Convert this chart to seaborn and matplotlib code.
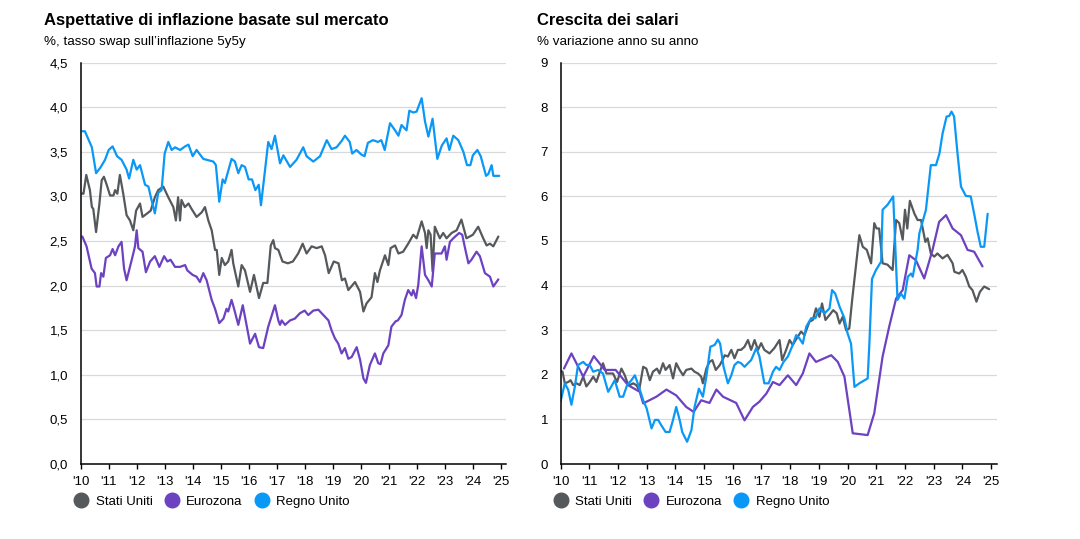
import numpy as np
import pandas as pd
import matplotlib
matplotlib.use("Agg")
import matplotlib.pyplot as plt
from matplotlib.lines import Line2D
import seaborn as sns

# --- left chart: 5y5y inflation swap (%) ---
inf_us_t = [2010.06, 2010.1, 2010.2, 2010.33, 2010.4, 2010.45, 2010.55, 2010.67, 2010.75, 2010.83, 2010.93,
            2011.05, 2011.17, 2011.23, 2011.31, 2011.4, 2011.52, 2011.64, 2011.76, 2011.88, 2011.98,
            2012.12, 2012.21, 2012.38, 2012.5, 2012.65, 2012.77, 2012.95, 2013.13, 2013.31, 2013.4,
            2013.48, 2013.55, 2013.6, 2013.72, 2013.85, 2013.96, 2014.14, 2014.32, 2014.44, 2014.56,
            2014.68, 2014.8, 2014.86, 2014.95, 2015.04, 2015.15, 2015.27, 2015.39, 2015.45, 2015.63,
            2015.75, 2015.87, 2016.05, 2016.19, 2016.37, 2016.52, 2016.67, 2016.79, 2016.88, 2016.94,
            2017.06, 2017.21, 2017.4, 2017.58, 2017.77, 2017.93, 2018.07, 2018.25, 2018.43, 2018.61,
            2018.73, 2018.86, 2019.04, 2019.21, 2019.33, 2019.44, 2019.56, 2019.8, 2019.98, 2020.1,
            2020.21, 2020.39, 2020.51, 2020.6, 2020.69, 2020.87, 2020.99, 2021.07, 2021.23, 2021.35,
            2021.52, 2021.7, 2021.88, 2022.0, 2022.18, 2022.3, 2022.36, 2022.42, 2022.5, 2022.57,
            2022.65, 2022.83, 2022.95, 2023.07, 2023.25, 2023.43, 2023.6, 2023.78, 2024.01, 2024.2,
            2024.38, 2024.5, 2024.62, 2024.74, 2024.92]
inf_us = [3.03, 3.03, 3.24, 3.07, 2.88, 2.86, 2.60, 2.92, 3.18, 3.22, 3.13,
          3.01, 3.01, 3.07, 3.03, 3.24, 3.03, 2.79, 2.73, 2.62, 2.84,
          2.92, 2.77, 2.81, 2.84, 2.99, 3.07, 3.11, 2.99, 2.88, 2.73,
          2.99, 2.73, 2.96, 2.88, 2.92, 2.86, 2.77, 2.82, 2.88, 2.73,
          2.62, 2.40, 2.40, 2.12, 2.31, 2.23, 2.27, 2.40, 2.25, 1.99,
          2.23, 2.17, 1.93, 2.12, 1.86, 2.03, 2.03, 2.45, 2.51, 2.42,
          2.40, 2.27, 2.25, 2.27, 2.36, 2.47, 2.36, 2.44, 2.42, 2.44,
          2.34, 2.14, 2.27, 2.25, 2.06, 2.08, 1.95, 2.04, 1.93, 1.71,
          1.80, 1.87, 2.14, 2.04, 2.17, 2.34, 2.23, 2.42, 2.45, 2.36,
          2.38, 2.47, 2.57, 2.53, 2.72, 2.59, 2.42, 2.62, 2.57, 2.16,
          2.66, 2.53, 2.59, 2.53, 2.59, 2.62, 2.74, 2.53, 2.57, 2.66,
          2.53, 2.45, 2.47, 2.44, 2.55]

inf_ez_t = [2010.06, 2010.21, 2010.39, 2010.51, 2010.57, 2010.67, 2010.73, 2010.81, 2010.9, 2011.05, 2011.14,
            2011.23, 2011.35, 2011.46, 2011.55, 2011.64, 2011.76, 2011.88, 2011.94, 2012.0, 2012.06,
            2012.21, 2012.33, 2012.48, 2012.65, 2012.81, 2012.98, 2013.1, 2013.21, 2013.37, 2013.55,
            2013.73, 2013.81, 2014.0, 2014.14, 2014.26, 2014.38, 2014.5, 2014.68, 2014.8, 2014.95,
            2015.1, 2015.21, 2015.27, 2015.39, 2015.48, 2015.63, 2015.79, 2015.87, 2016.05, 2016.23,
            2016.37, 2016.52, 2016.7, 2016.94, 2017.06, 2017.12, 2017.18, 2017.3, 2017.48, 2017.65,
            2017.83, 2018.0, 2018.13, 2018.31, 2018.49, 2018.67, 2018.85, 2018.96, 2019.08, 2019.2,
            2019.32, 2019.44, 2019.56, 2019.68, 2019.86, 2019.98, 2020.1, 2020.19, 2020.33, 2020.51,
            2020.63, 2020.71, 2020.81, 2020.99, 2021.1, 2021.25, 2021.33, 2021.46, 2021.58, 2021.7,
            2021.82, 2021.88, 2021.98, 2022.06, 2022.18, 2022.3, 2022.42, 2022.54, 2022.65, 2022.77,
            2022.89, 2023.01, 2023.07, 2023.19, 2023.31, 2023.52, 2023.63, 2023.73, 2023.85, 2023.96,
            2024.14, 2024.26, 2024.44, 2024.62, 2024.74, 2024.92]
inf_ez = [2.55, 2.44, 2.19, 2.14, 1.99, 1.99, 2.14, 2.10, 2.31, 2.34, 2.41,
          2.34, 2.44, 2.49, 2.19, 2.06, 2.21, 2.36, 2.44, 2.62, 2.42,
          2.38, 2.15, 2.27, 2.33, 2.21, 2.33, 2.27, 2.29, 2.21, 2.21,
          2.23, 2.17, 2.12, 2.10, 2.04, 2.14, 2.06, 1.84, 1.74, 1.58,
          1.63, 1.74, 1.71, 1.84, 1.74, 1.56, 1.78, 1.65, 1.35, 1.46,
          1.31, 1.30, 1.54, 1.78, 1.61, 1.56, 1.61, 1.56, 1.61, 1.63,
          1.69, 1.72, 1.67, 1.72, 1.73, 1.67, 1.61, 1.50, 1.41, 1.35,
          1.24, 1.30, 1.18, 1.20, 1.31, 1.17, 0.96, 0.91, 1.11, 1.24,
          1.13, 1.12, 1.24, 1.33, 1.54, 1.60, 1.61, 1.67, 1.84, 1.95,
          1.89, 1.95, 1.86, 2.01, 2.44, 2.12, 2.06, 1.99, 2.36, 2.36,
          2.36, 2.44, 2.29, 2.49, 2.53, 2.59, 2.57, 2.42, 2.25, 2.29,
          2.38, 2.33, 2.14, 2.10, 1.99, 2.07]

inf_uk_t = [2010.06, 2010.15, 2010.4, 2010.55, 2010.7, 2010.87, 2011.0, 2011.14, 2011.3, 2011.46, 2011.64,
            2011.73, 2011.88, 2012.0, 2012.12, 2012.3, 2012.42, 2012.5, 2012.65, 2012.77, 2012.89,
            2013.0, 2013.13, 2013.25, 2013.37, 2013.55, 2013.73, 2013.85, 2014.0, 2014.14, 2014.38,
            2014.74, 2014.83, 2014.95, 2015.07, 2015.15, 2015.39, 2015.51, 2015.63, 2015.75, 2015.87,
            2016.0, 2016.12, 2016.24, 2016.36, 2016.44, 2016.58, 2016.7, 2016.82, 2016.94, 2017.12,
            2017.24, 2017.48, 2017.71, 2017.95, 2018.07, 2018.31, 2018.55, 2018.79, 2018.96, 2019.14,
            2019.32, 2019.44, 2019.61, 2019.7, 2019.85, 2020.02, 2020.14, 2020.26, 2020.44, 2020.62,
            2020.74, 2020.86, 2021.05, 2021.23, 2021.35, 2021.46, 2021.64, 2021.74, 2021.88, 2022.0,
            2022.18, 2022.3, 2022.42, 2022.57, 2022.74, 2022.9, 2023.07, 2023.17, 2023.31, 2023.49,
            2023.67, 2023.8, 2023.92, 2024.01, 2024.17, 2024.29, 2024.48, 2024.56, 2024.68, 2024.74,
            2024.95]
inf_uk = [3.73, 3.73, 3.55, 3.26, 3.32, 3.41, 3.52, 3.56, 3.45, 3.41, 3.30,
          3.20, 3.41, 3.30, 3.35, 3.13, 3.11, 3.00, 2.81, 3.04, 3.07,
          3.48, 3.61, 3.52, 3.55, 3.52, 3.56, 3.58, 3.45, 3.52, 3.42,
          3.39, 3.35, 2.94, 3.19, 3.15, 3.42, 3.39, 3.26, 3.35, 3.33,
          3.19, 3.19, 3.07, 3.13, 2.90, 3.28, 3.61, 3.53, 3.68, 3.37,
          3.46, 3.33, 3.41, 3.55, 3.45, 3.39, 3.45, 3.63, 3.53, 3.55,
          3.62, 3.68, 3.61, 3.48, 3.52, 3.47, 3.45, 3.60, 3.63, 3.61,
          3.63, 3.52, 3.82, 3.74, 3.68, 3.80, 3.74, 3.96, 3.94, 3.95,
          4.10, 3.84, 3.67, 3.87, 3.42, 3.57, 3.65, 3.52, 3.68, 3.63,
          3.50, 3.35, 3.35, 3.46, 3.52, 3.45, 3.23, 3.25, 3.35, 3.23,
          3.23]

# --- right chart: wage growth (% y/y) ---
wg_us_t = [2010.0, 2010.07, 2010.15, 2010.27, 2010.35, 2010.44, 2010.56, 2010.67, 2010.79, 2010.9, 2011.02,
           2011.14, 2011.25, 2011.37, 2011.48, 2011.6, 2011.71, 2011.83, 2011.97, 2012.12, 2012.24,
           2012.32, 2012.41, 2012.53, 2012.64, 2012.74, 2012.88, 2012.99, 2013.11, 2013.22, 2013.36,
           2013.45, 2013.57, 2013.66, 2013.8, 2013.92, 2014.03, 2014.15, 2014.27, 2014.38, 2014.56,
           2014.67, 2014.79, 2014.9, 2014.96, 2015.08, 2015.19, 2015.29, 2015.41, 2015.55, 2015.64,
           2015.72, 2015.83, 2015.95, 2016.06, 2016.18, 2016.29, 2016.41, 2016.53, 2016.64, 2016.76,
           2016.88, 2016.99, 2017.1, 2017.28, 2017.45, 2017.63, 2017.72, 2017.86, 2017.98, 2018.09,
           2018.23, 2018.38, 2018.5, 2018.67, 2018.79, 2018.9, 2019.02, 2019.11, 2019.23, 2019.37,
           2019.5, 2019.62, 2019.72, 2019.83, 2019.95, 2020.06, 2020.16, 2020.41, 2020.53, 2020.67,
           2020.82, 2020.93, 2021.01, 2021.1, 2021.22, 2021.39, 2021.57, 2021.69, 2021.8, 2021.92,
           2022.0, 2022.08, 2022.17, 2022.33, 2022.44, 2022.56, 2022.71, 2022.79, 2022.9, 2023.02,
           2023.13, 2023.31, 2023.48, 2023.66, 2023.72, 2023.89, 2024.0, 2024.12, 2024.24, 2024.35,
           2024.49, 2024.61, 2024.76, 2024.93]
wg_us = [2.09, 2.07, 1.81, 1.84, 1.88, 1.77, 1.81, 1.77, 1.96, 1.74, 1.84,
         1.96, 1.84, 2.07, 2.26, 2.03, 2.03, 2.03, 1.84, 2.14, 1.99,
         1.84, 1.77, 1.81, 1.77, 1.66, 2.18, 2.14, 1.88, 2.07, 2.14,
         2.03, 2.26, 2.11, 2.22, 1.92, 2.26, 2.11, 1.99, 2.11, 2.14,
         2.07, 2.03, 1.96, 1.81, 2.14, 2.29, 2.33, 2.11, 2.22, 2.33,
         2.44, 2.41, 2.56, 2.37, 2.56, 2.56, 2.63, 2.78, 2.56, 2.78,
         2.56, 2.71, 2.56, 2.48, 2.60, 2.78, 2.33, 2.56, 2.78, 2.67,
         2.82, 2.97, 2.89, 3.19, 3.23, 3.49, 3.30, 3.60, 3.23, 3.34,
         3.45, 3.38, 3.15, 3.30, 3.00, 3.04, 3.68, 5.13, 4.87, 4.80,
         4.50, 5.40, 5.28, 5.28, 4.50, 4.47, 4.35, 5.47, 5.40, 5.03,
         5.70, 5.28, 5.90, 5.61, 5.47, 5.47, 4.98, 5.06, 4.72, 4.65,
         4.72, 4.61, 4.69, 4.50, 4.31, 4.27, 4.35, 4.20, 3.98, 3.90,
         3.64, 3.86, 3.98, 3.92]

wg_ez_t = [2010.12, 2010.38, 2010.79, 2011.16, 2011.54, 2011.92, 2012.35, 2012.76, 2012.88, 2013.34, 2013.69,
           2014.03, 2014.38, 2014.64, 2014.9, 2015.19, 2015.43, 2015.66, 2016.12, 2016.41, 2016.7,
           2016.93, 2017.17, 2017.4, 2017.63, 2017.92, 2018.21, 2018.44, 2018.67, 2018.9, 2019.43,
           2019.66, 2019.89, 2020.18, 2020.7, 2020.93, 2021.22, 2021.45, 2021.69, 2021.92, 2022.15,
           2022.38, 2022.67, 2022.96, 2023.19, 2023.43, 2023.66, 2023.95, 2024.18, 2024.41, 2024.7]
wg_ez = [2.14, 2.48, 1.96, 2.42, 2.11, 2.11, 1.77, 1.62, 1.36, 1.51, 1.67,
         1.54, 1.28, 1.17, 1.43, 1.37, 1.67, 1.51, 1.37, 0.98, 1.28,
         1.40, 1.58, 1.84, 1.77, 1.99, 1.77, 2.03, 2.48, 2.29, 2.44,
         2.29, 1.96, 0.69, 0.65, 1.14, 2.41, 3.08, 3.71, 3.90, 4.68,
         4.57, 4.16, 4.80, 5.43, 5.58, 5.28, 5.13, 4.80, 4.76, 4.43]

wg_uk_t = [2010.0, 2010.15, 2010.27, 2010.38, 2010.5, 2010.61, 2010.79, 2010.9, 2011.02, 2011.14, 2011.31,
           2011.48, 2011.66, 2011.77, 2011.89, 2012.06, 2012.18, 2012.32, 2012.47, 2012.59, 2012.71,
           2012.88, 2013.0, 2013.17, 2013.29, 2013.4, 2013.51, 2013.66, 2013.8, 2013.92, 2014.03,
           2014.15, 2014.24, 2014.41, 2014.56, 2014.67, 2014.82, 2014.96, 2015.08, 2015.22, 2015.37,
           2015.48, 2015.56, 2015.68, 2015.83, 2015.95, 2016.06, 2016.18, 2016.29, 2016.41, 2016.53,
           2016.64, 2016.82, 2016.93, 2017.1, 2017.25, 2017.4, 2017.51, 2017.63, 2017.77, 2017.92,
           2018.09, 2018.21, 2018.32, 2018.44, 2018.56, 2018.73, 2018.88, 2019.02, 2019.2, 2019.37,
           2019.46, 2019.57, 2019.72, 2019.89, 2020.0, 2020.12, 2020.24, 2020.41, 2020.7, 2020.76,
           2020.85, 2020.99, 2021.17, 2021.22, 2021.39, 2021.59, 2021.74, 2021.86, 2021.98, 2022.1,
           2022.21, 2022.27, 2022.44, 2022.5, 2022.73, 2022.9, 2023.08, 2023.2, 2023.31, 2023.45,
           2023.54, 2023.62, 2023.71, 2023.83, 2023.95, 2024.12, 2024.29, 2024.41, 2024.53, 2024.64,
           2024.76, 2024.88]
wg_uk = [1.40, 1.81, 1.66, 1.33, 1.74, 2.22, 2.29, 2.22, 2.22, 2.07, 2.11,
         2.03, 1.62, 1.74, 1.88, 1.51, 1.51, 1.77, 1.88, 1.99, 1.77,
         1.43, 1.25, 0.80, 0.99, 0.99, 0.87, 0.72, 0.72, 0.99, 1.28,
         0.99, 0.72, 0.50, 0.76, 1.28, 1.69, 1.51, 1.96, 2.63, 2.67,
         2.79, 2.70, 2.18, 1.81, 1.99, 2.22, 2.29, 2.26, 2.18, 2.26,
         2.33, 2.60, 2.41, 1.81, 1.81, 2.07, 2.18, 2.11, 2.29, 2.41,
         2.67, 2.89, 2.82, 2.70, 3.08, 3.27, 3.27, 3.49, 3.38, 3.49,
         3.90, 3.82, 3.53, 3.27, 2.93, 2.70, 1.73, 1.81, 1.92, 2.70,
         4.15, 4.35, 4.54, 5.70, 5.81, 6.00, 3.68, 3.82, 3.71, 4.20,
         4.27, 4.20, 4.80, 5.17, 5.70, 6.70, 6.70, 6.96, 7.41, 7.79,
         7.80, 7.90, 7.79, 6.96, 6.22, 6.01, 6.00, 5.61, 5.20, 4.87,
         4.87, 5.61]

countries = ["Stati Uniti", "Eurozona", "Regno Unito"]
colors = ["#55595c", "#6c42c1", "#0a98f7"]
palette = dict(zip(countries, colors))

year_ticks = list(range(2010, 2026))
year_labels = ["'" + str(y)[2:] for y in year_ticks]


def long_df(series):
    parts = []
    for name, (t, v) in zip(countries, series):
        parts.append(pd.DataFrame({"anno": t, "valore": v, "paese": name}))
    return pd.concat(parts, ignore_index=True)


df_inf = long_df([(inf_us_t, inf_us), (inf_ez_t, inf_ez), (inf_uk_t, inf_uk)])
df_wg = long_df([(wg_us_t, wg_us), (wg_ez_t, wg_ez), (wg_uk_t, wg_uk)])

sns.set_style("white")
plt.rcParams["font.family"] = ["Liberation Sans", "DejaVu Sans"]
plt.rcParams["text.color"] = "black"
plt.rcParams["xtick.color"] = "black"
plt.rcParams["ytick.color"] = "black"

fig = plt.figure(figsize=(10.8, 5.39), dpi=100)
ax1 = fig.add_axes([0.0747, 0.139, 0.394, 0.745])
ax2 = fig.add_axes([0.519, 0.139, 0.404, 0.745])


def style(ax, df, yticks, ylabels):
    sns.lineplot(data=df, x="anno", y="valore", hue="paese", hue_order=countries,
                 palette=palette, linewidth=1.6, ax=ax, legend=False, sort=False)
    ax.set_xlim(2010, 2025.2)
    ax.set_ylim(yticks[0], yticks[-1])
    ax.set_yticks(yticks)
    ax.set_yticklabels(ylabels)
    ax.set_xticks(year_ticks)
    ax.set_xticklabels(year_labels)
    ax.set_xlabel("")
    ax.set_ylabel("")
    ax.grid(axis="y", color="#d9d9d9", linewidth=0.9)
    ax.set_axisbelow(True)
    for s in ["top", "right"]:
        ax.spines[s].set_visible(False)
    for s in ["left", "bottom"]:
        ax.spines[s].set_color("black")
        ax.spines[s].set_linewidth(1.1)
    ax.tick_params(axis="x", direction="out", length=3.5, width=1, color="black",
                   pad=5, labelsize=9.5, bottom=True)
    ax.tick_params(axis="y", length=0, pad=9, labelsize=9.5)
    handles = [Line2D([], [], marker="o", linestyle="none", markersize=10.5,
                      markerfacecolor=c, markeredgecolor=c) for c in colors]
    ax.legend(handles, countries, loc="upper left", bbox_to_anchor=(-0.042, -0.066),
              ncol=3, frameon=False, fontsize=9.5, handletextpad=0.1,
              columnspacing=0.45, borderaxespad=0)


inf_ticks = [0, 0.5, 1, 1.5, 2, 2.5, 3, 3.5, 4, 4.5]
inf_labels = [f"{v:.1f}".replace(".", ",") for v in inf_ticks]
wg_ticks = list(range(0, 10))
wg_labels = [str(v) for v in wg_ticks]

style(ax1, df_inf, inf_ticks, inf_labels)
style(ax2, df_wg, wg_ticks, wg_labels)

fig.text(0.041, 0.962, "Aspettative di inflazione basate sul mercato", fontsize=12,
         fontweight="bold", va="center", ha="left")
fig.text(0.041, 0.922, "%, tasso swap sull\u2019inflazione 5y5y", fontsize=9.6,
         va="center", ha="left")
fig.text(0.497, 0.962, "Crescita dei salari", fontsize=12,
         fontweight="bold", va="center", ha="left")
fig.text(0.497, 0.922, "% variazione anno su anno", fontsize=9.6,
         va="center", ha="left")

fig.savefig("out.png", dpi=100)
